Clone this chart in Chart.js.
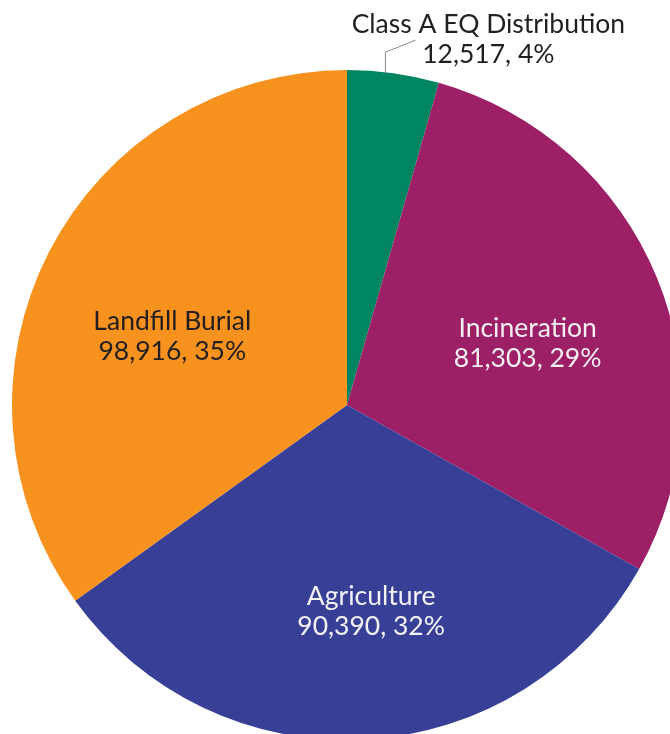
<!DOCTYPE html>
<html><head><meta charset="utf-8">
<script src="https://cdn.jsdelivr.net/npm/chart.js@4"></script>
<style>html,body{margin:0;padding:0;background:#fff;overflow:hidden;width:670px;height:734px}
#wrap{position:absolute;left:0;top:0;width:694px;height:740px}</style>
</head><body>
<div id="wrap"><canvas id="c" width="694" height="740"></canvas></div>
<script>
const categories = ["Class A EQ Distribution", "Incineration", "Agriculture", "Landfill Burial"];
const values = [12517, 81303, 90390, 98916];
const percentLabels = ["4%", "29%", "32%", "35%"];
const colors = ["#008561", "#9D1F66", "#373F97", "#F7921E"];
const textColors = ["#231F20", "#F2EEF2", "#F2F2F7", "#231F20"];
const FONT = "Lato, 'Noto Sans', sans-serif";

const labelPlugin = {
  id: 'sliceLabels',
  afterDatasetsDraw(chart) {
    const ctx = chart.ctx;
    const meta = chart.getDatasetMeta(0);
    ctx.save();
    ctx.font = "26.5px " + FONT;
    ctx.textAlign = "center";
    ctx.textBaseline = "middle";
    meta.data.forEach((arc, i) => {
      const p = arc.getProps(['x','y','startAngle','endAngle','outerRadius'], true);
      const mid = (p.startAngle + p.endAngle) / 2;
      const line1 = categories[i];
      const line2 = values[i].toLocaleString('en-US') + ", " + percentLabels[i];
      ctx.fillStyle = textColors[i];
      if (i === 0) {
        const ex = p.x + Math.cos(mid) * p.outerRadius - 8;
        const ey = p.y + Math.sin(mid) * p.outerRadius;
        ctx.strokeStyle = "#888";
        ctx.lineWidth = 1;
        ctx.beginPath();
        ctx.moveTo(ex, ey);
        ctx.lineTo(ex, ey - 21);
        ctx.lineTo(ex + 30, ey - 33);
        ctx.stroke();
        const cx = ex + 103;
        ctx.fillText(line1, cx, ey - 49);
        ctx.fillText(line2, cx, ey - 19);
      } else {
        const frac = [0, 0.57, 0.62, 0.56][i];
        const dAng = [0, 0.06, -0.06, -0.1][i];
        const a = mid + dAng;
        const cx = p.x + Math.cos(a) * p.outerRadius * frac;
        const cy = p.y + Math.sin(a) * p.outerRadius * frac;
        ctx.fillText(line1, cx, cy - 15);
        ctx.fillText(line2, cx, cy + 15);
      }
    });
    ctx.restore();
  }
};

new Chart(document.getElementById('c'), {
  type: 'pie',
  data: {
    labels: categories,
    datasets: [{ data: values, backgroundColor: colors, borderWidth: 0 }]
  },
  options: {
    responsive: false,
    animation: false,
    devicePixelRatio: 1,
    layout: { padding: { top: 70, left: 12, right: 12, bottom: 0 } },
    plugins: { legend: { display: false }, tooltip: { enabled: false } }
  },
  plugins: [labelPlugin]
});
</script>
</body></html>
